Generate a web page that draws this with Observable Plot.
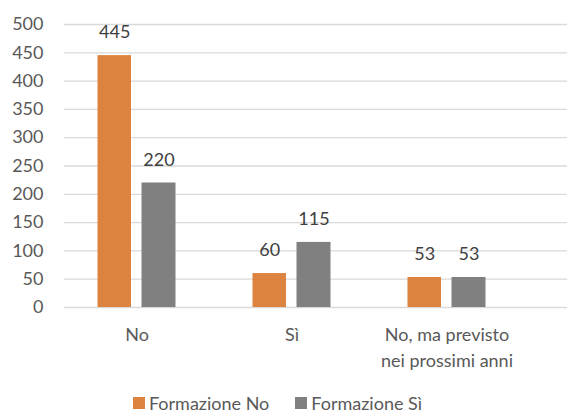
<!DOCTYPE html>
<html>
<head>
<meta charset="utf-8">
<script src="https://cdn.jsdelivr.net/npm/d3@7"></script>
<script src="https://cdn.jsdelivr.net/npm/@observablehq/plot@0.6"></script>
<style>
  html, body { margin: 0; padding: 0; background: #fff; overflow: hidden; }
  #chart { width: 567px; }
  .legend { display: flex; justify-content: center; align-items: center; height: 22px; line-height: 22px;
    font-family: Lato, sans-serif; font-size: 18px; color: #595959; margin-left: -12px; }
  .legend .item { display: flex; align-items: center; margin: 0 13px; }
  .legend .sw { width: 12px; height: 12px; margin-right: 4px; display: inline-block; }
</style>
</head>
<body>
<div id="chart"></div>
<script>
const categories = ["No", "Sì", "No, ma previsto\nnei prossimi anni"];
const seriesNames = ["Formazione No", "Formazione Sì"];
const formazioneNo = [445, 60, 53];
const formazioneSi = [220, 115, 53];
const yTicks = [0, 50, 100, 150, 200, 250, 300, 350, 400, 450, 500];
const colors = ["#DC843F", "#808080"];

const rowsNo = categories.map((c, i) => ({cat: c, value: formazioneNo[i]}));
const rowsSi = categories.map((c, i) => ({cat: c, value: formazioneSi[i]}));

const chart = Plot.plot({
  width: 567,
  height: 392,
  marginLeft: 64,
  marginRight: 0,
  marginTop: 24,
  marginBottom: 85,
  style: {fontFamily: "Lato, sans-serif", fontSize: "18px", color: "#595959", background: "#fff"},
  x: {domain: categories, range: [58.75, 525], padding: 0, label: null},
  y: {domain: [0, 500], label: null},
  marks: [
    Plot.ruleY(yTicks, {stroke: "#D9D9D9", strokeWidth: 1.3}),
    Plot.barY(rowsNo, {x: "cat", y: "value", fill: colors[0], insetLeft: 38.5, insetRight: 83}),
    Plot.barY(rowsSi, {x: "cat", y: "value", fill: colors[1], insetLeft: 82.5, insetRight: 38.5}),
    Plot.text(rowsNo, {x: "cat", y: "value", text: d => String(d.value), dx: -22.25, dy: -23, fill: "#404040", fontSize: 18}),
    Plot.text(rowsSi, {x: "cat", y: "value", text: d => String(d.value), dx: 22, dy: -23, fill: "#404040", fontSize: 18}),
    Plot.axisY({ticks: yTicks, tickSize: 0, tickPadding: 21, label: null}),
    Plot.axisX({tickSize: 0, tickPadding: 15, lineHeight: 1.45, label: null})
  ]
});
document.getElementById("chart").appendChild(chart);

const legend = document.createElement("div");
legend.className = "legend";
seriesNames.forEach((name, i) => {
  const item = document.createElement("span");
  item.className = "item";
  const sw = document.createElement("span");
  sw.className = "sw";
  sw.style.background = colors[i];
  item.appendChild(sw);
  item.appendChild(document.createTextNode(name));
  legend.appendChild(item);
});
document.getElementById("chart").appendChild(legend);
</script>
</body>
</html>
